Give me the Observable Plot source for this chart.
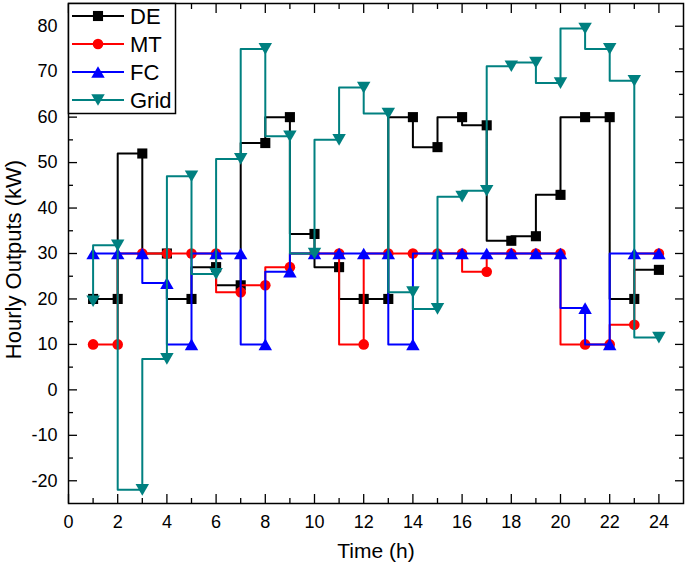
<!DOCTYPE html>
<html><head><meta charset="utf-8">
<script src="https://cdn.jsdelivr.net/npm/d3@7"></script>
<script src="https://cdn.jsdelivr.net/npm/@observablehq/plot@0.6"></script>
<style>
html,body{margin:0;padding:0;background:#fff;}
#chart{width:685px;height:564px;}
</style>
</head><body><div id="chart"></div>
<script>
const hours = [1,2,3,4,5,6,7,8,9,10,11,12,13,14,15,16,17,18,19,20,21,22,23,24];
const DE   = [20,20,52,30,20,27,23,54.3,60,34.3,27,20,20,60,53.4,60,58.2,32.8,33.8,42.9,60,60,20,26.4];
const MT   = [10,10,30,30,30,30,21.5,23,27,30,30,10,30,30,30,30,26,30,30,30,10,10,14.3,30];
const FC   = [30,30,30,23.5,10,30,30,10,26,30,30,30,30,10,30,30,30,30,30,30,18,10,30,30];
const Grid = [19.5,31.8,-22,6.8,47,25.5,50.8,75,55.8,30,55,66.5,60.8,21.5,17.8,42.5,43.8,71.2,72,67.5,79.5,75,68,11.5];

const seriesNames = ["DE","MT","FC","Grid"];
const seriesColors = ["#000000","#ff0000","#0000ff","#008080"];
const xTicks = [0,2,4,6,8,10,12,14,16,18,20,22,24];
const xMinor = [1,3,5,7,9,11,13,15,17,19,21,23];
const yTicks = [-20,-10,0,10,20,30,40,50,60,70,80];
const yMinor = [-15,-5,5,15,25,35,45,55,65,75];

const downTriangle = {
  draw(ctx, size) {
    const s = Math.sqrt(size * 4 / Math.sqrt(3));
    const h = s * Math.sqrt(3) / 2;
    ctx.moveTo(0, h / 2);
    ctx.lineTo(-s / 2, -h / 2);
    ctx.lineTo(s / 2, -h / 2);
    ctx.closePath();
  }
};
const upTriangle = {
  draw(ctx, size) {
    const s = Math.sqrt(size * 4 / Math.sqrt(3));
    const h = s * Math.sqrt(3) / 2;
    ctx.moveTo(0, -h / 2);
    ctx.lineTo(-s / 2, h / 2);
    ctx.lineTo(s / 2, h / 2);
    ctx.closePath();
  }
};
const symbols = ["square","circle",upTriangle,downTriangle];
const radii = [5.7,5.3,5,5];
const values = [DE, MT, FC, Grid];

const rows = values.map((vals, k) => hours.map((h, i) => ({hour: h, value: vals[i], series: seriesNames[k]})));

const seriesMarks = [];
rows.forEach((r, k) => {
  seriesMarks.push(Plot.line(r, {x: "hour", y: "value", curve: "step-before", stroke: seriesColors[k], strokeWidth: 2}));
  seriesMarks.push(Plot.dot(r, {x: "hour", y: "value", symbol: symbols[k], r: radii[k], fill: seriesColors[k], stroke: "none"}));
});

const fmt = d => String(d);
const plot = Plot.plot({
  width: 685,
  height: 564,
  marginLeft: 68,
  marginRight: 2,
  marginTop: 3,
  marginBottom: 61,
  style: {fontFamily: "'Liberation Sans', Arial, sans-serif", background: "#fff", color: "#000", overflow: "visible"},
  x: {domain: [0, 25]},
  y: {domain: [-25, 85]},
  marks: [
    ...seriesMarks,
    Plot.frame({stroke: "#000", strokeWidth: 1.5}),
    Plot.axisX({anchor: "bottom", ticks: xTicks, tickSize: -9, fill: "none", label: null, strokeWidth: 1.3}),
    Plot.axisX({anchor: "bottom", ticks: xMinor, tickSize: -5, fill: "none", label: null, strokeWidth: 1.3}),
    Plot.axisX({anchor: "top", ticks: xTicks, tickSize: -9, fill: "none", label: null, strokeWidth: 1.3}),
    Plot.axisX({anchor: "top", ticks: xMinor, tickSize: -5, fill: "none", label: null, strokeWidth: 1.3}),
    Plot.axisY({anchor: "left", ticks: yTicks, tickSize: -9, fill: "none", label: null, strokeWidth: 1.3}),
    Plot.axisY({anchor: "left", ticks: yMinor, tickSize: -5, fill: "none", label: null, strokeWidth: 1.3}),
    Plot.axisY({anchor: "right", ticks: yTicks, tickSize: -9, fill: "none", label: null, strokeWidth: 1.3}),
    Plot.axisY({anchor: "right", ticks: yMinor, tickSize: -5, fill: "none", label: null, strokeWidth: 1.3}),
    Plot.axisX({anchor: "bottom", ticks: xTicks, tickSize: 0, tickPadding: 11.5, tickFormat: fmt, fontSize: 18, label: null}),
    Plot.axisY({anchor: "left", ticks: yTicks, tickSize: 0, tickPadding: 11, tickFormat: fmt, fontSize: 18, label: null}),
    Plot.text(["Time (h)"], {text: d => d, frameAnchor: "bottom", textAnchor: "middle", lineAnchor: "middle", dy: 48, fontSize: 21}),
    Plot.text(["Hourly Outputs (kW)"], {text: d => d, frameAnchor: "left", textAnchor: "middle", lineAnchor: "middle", dx: -55, dy: 6, rotate: -90, fontSize: 22})
  ]
});
document.getElementById("chart").appendChild(plot);

// legend inside the frame, top-left
const svg = d3.select(plot);
const lg = svg.append("g");
lg.append("rect").attr("x", 68.5).attr("y", 3.5).attr("width", 107).attr("height", 110)
  .attr("fill", "#fff").attr("stroke", "#000").attr("stroke-width", 1.5);
const rowY = [16, 44, 72, 100];
seriesNames.forEach((name, k) => {
  const y = rowY[k];
  lg.append("line").attr("x1", 72).attr("x2", 124).attr("y1", y).attr("y2", y)
    .attr("stroke", seriesColors[k]).attr("stroke-width", 2);
  const sym = typeof symbols[k] === "string" ? (symbols[k] === "square" ? d3.symbolSquare : d3.symbolCircle) : symbols[k];
  lg.append("path").attr("d", d3.symbol(sym, Math.PI * radii[k] * radii[k])())
    .attr("transform", `translate(98,${y})`).attr("fill", seriesColors[k]);
  lg.append("text").attr("x", 130).attr("y", y).attr("dy", "0.36em")
    .attr("text-anchor", "start").attr("font-size", 22).attr("fill", "#000").text(name);
});
</script>
</body></html>
